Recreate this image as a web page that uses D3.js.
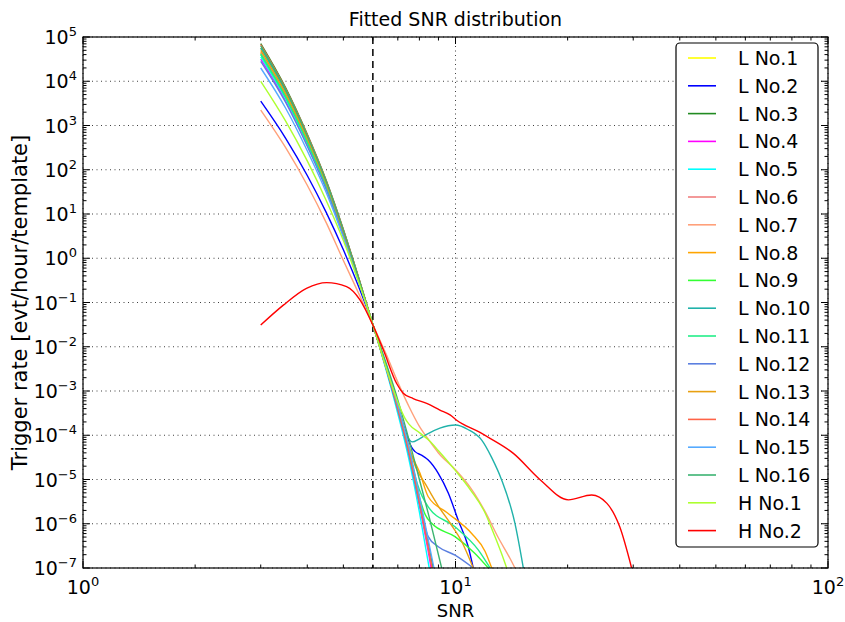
<!DOCTYPE html>
<html>
<head>
<meta charset="utf-8">
<script src="https://cdn.jsdelivr.net/npm/d3@7"></script>
<style>
  body { margin: 0; background: #fff; }
  svg { display: block; }
  text { font-family: "DejaVu Sans", sans-serif; fill: #000; }
</style>
</head>
<body>
<svg id="chart" width="845" height="622"></svg>
<script>
// Fitted trigger-rate curves: each point is [SNR, log10(rate in evt/hour/template)]
const lNo1  = [[3,4.65],[3.5,3.68],[4,2.67],[4.5,1.65],[5,0.58],[5.5,-0.48],[6,-1.5],[6.5,-2.43],[7,-3.36],[7.5,-4.33],[8,-5.44],[8.5,-6.56],[8.7,-7]];
const lNo2  = [[3,3.55],[3.5,2.71],[4,1.87],[4.5,1.03],[5,0.19],[5.5,-0.65],[6,-1.5],[6.5,-2.4],[7,-3.35],[7.4,-4.0],[7.62,-4.27],[7.79,-4.37],[8.1,-4.45],[8.45,-4.56],[8.99,-4.86],[9.57,-5.31],[10.17,-5.92],[10.82,-6.52],[11.16,-7]];
const lNo3  = [[3,4.85],[3.5,3.85],[4,2.8],[4.5,1.75],[5,0.65],[5.5,-0.45],[6,-1.5],[6.5,-2.43],[7,-3.36],[7.5,-4.33],[8,-5.44],[8.5,-6.56],[8.7,-7]];
const lNo4  = [[3,4.5],[3.5,3.56],[4,2.57],[4.5,1.58],[5,0.53],[5.5,-0.51],[6,-1.5],[6.5,-2.47],[7,-3.43],[7.5,-4.44],[8,-5.59],[8.5,-6.75],[8.6,-7]];
const lNo5  = [[3,4.55],[3.5,3.6],[4,2.6],[4.5,1.6],[5,0.55],[5.5,-0.5],[6,-1.5],[6.5,-2.5],[7,-3.51],[7.5,-4.55],[8,-5.74],[8.5,-7]];
const lNo6  = [[3,4.65],[3.5,3.68],[4,2.67],[4.5,1.65],[5,0.58],[5.5,-0.48],[6,-1.5],[6.5,-2.45],[7,-3.4],[7.5,-4.39],[8,-5.51],[8.5,-6.65],[8.65,-7]];
const lNo7  = [[3,3.35],[3.5,2.5],[4,1.65],[4.5,0.8],[5,-0.05],[5.5,-0.8],[6,-1.5],[6.5,-2.15],[7,-2.8],[7.5,-3.35],[8,-3.8],[8.5,-4.12],[9,-4.4],[10,-4.78],[11,-5.2],[12,-5.72],[13,-6.3],[14,-6.78],[14.44,-7]];
const lNo8  = [[3,4.75],[3.5,3.77],[4,2.73],[4.5,1.7],[5,0.62],[5.5,-0.47],[6,-1.5],[6.5,-2.43],[7,-3.36],[7.5,-4.3],[8.03,-4.86],[8.45,-5.39],[9.5,-5.75],[11.05,-6.22],[12.0,-6.62],[12.51,-7]];
const lNo9  = [[3,4.6],[3.5,3.64],[4,2.63],[4.5,1.63],[5,0.57],[5.5,-0.49],[6,-1.5],[6.5,-2.43],[7,-3.36],[7.5,-4.33],[8,-5.4],[8.3,-5.8],[8.63,-5.99],[9.97,-6.29],[11.28,-6.67],[12.25,-7]];
const lNo10 = [[3,4.75],[3.5,3.77],[4,2.73],[4.5,1.7],[5,0.62],[5.5,-0.47],[6,-1.5],[6.5,-2.45],[7,-3.4],[7.35,-3.95],[7.65,-4.15],[8,-4.08],[8.37,-3.98],[9.08,-3.84],[10,-3.77],[10.8,-3.87],[11.76,-4.11],[12.5,-4.5],[13.3,-5.01],[14.44,-5.99],[15.21,-7]];
const lNo11 = [[3,4.62],[3.5,3.65],[4,2.64],[4.5,1.63],[5,0.57],[5.5,-0.49],[6,-1.5],[6.5,-2.44],[7,-3.38],[7.5,-4.35],[7.9,-5.1],[8.45,-5.62],[9.97,-6.07],[11.51,-6.59],[12.38,-7]];
const lNo12 = [[3,4.45],[3.5,3.52],[4,2.53],[4.5,1.55],[5,0.52],[5.5,-0.52],[6,-1.5],[6.5,-2.47],[7,-3.43],[7.5,-4.44],[8,-5.55],[8.45,-6.29],[8.99,-6.52],[9.97,-6.71],[11.16,-7]];
const lNo13 = [[3,4.7],[3.5,3.72],[4,2.7],[4.5,1.68],[5,0.6],[5.5,-0.48],[6,-1.5],[6.5,-2.42],[7,-3.33],[7.5,-4.25],[7.8,-4.7],[8.3,-5.1],[8.99,-5.6],[9.7,-6.0],[10.39,-6.4],[11.16,-7]];
const lNo14 = [[3,4.83],[3.5,3.83],[4,2.79],[4.5,1.74],[5,0.64],[5.5,-0.45],[6,-1.5],[6.5,-2.45],[7,-3.4],[7.5,-4.39],[8,-5.51],[8.5,-6.65],[8.65,-7]];
const lNo15 = [[3,4.3],[3.5,3.39],[4,2.43],[4.5,1.48],[5,0.47],[5.5,-0.54],[6,-1.5],[6.5,-2.41],[7,-3.32],[7.5,-4.27],[8,-5.37],[8.5,-6.47],[8.75,-7]];
const lNo16 = [[3,4.8],[3.5,3.81],[4,2.77],[4.5,1.73],[5,0.63],[5.5,-0.46],[6,-1.5],[6.5,-2.35],[7,-3.2],[7.5,-4.1],[8,-5.0],[8.5,-5.85],[9.18,-7]];
const hNo1  = [[3,4.0],[3.5,3.1],[4,2.2],[4.5,1.3],[5,0.4],[5.5,-0.55],[6,-1.5],[6.5,-2.45],[7,-3.25],[7.3,-3.6],[7.5,-3.75],[8,-3.94],[8.5,-4.12],[9,-4.35],[10,-4.8],[11,-5.25],[12,-5.75],[12.76,-6.29],[13.3,-6.68],[13.72,-7]];
const hNo2  = [[3,-1.51],[3.45,-1.06],[3.98,-0.68],[4.51,-0.55],[5.1,-0.64],[5.54,-0.94],[6,-1.51],[6.4,-2.07],[6.95,-2.83],[7.24,-3.05],[7.7,-3.17],[8.37,-3.28],[9.08,-3.43],[9.67,-3.54],[10.07,-3.66],[11.6,-3.93],[12.38,-4.07],[14.3,-4.41],[16.9,-5.01],[20.1,-5.46],[23.2,-5.35],[25.5,-5.54],[27.6,-6.07],[29.7,-7]];

const seriesNames = ["L No.1","L No.2","L No.3","L No.4","L No.5","L No.6","L No.7","L No.8",
  "L No.9","L No.10","L No.11","L No.12","L No.13","L No.14","L No.15","L No.16","H No.1","H No.2"];
const seriesData = [lNo1,lNo2,lNo3,lNo4,lNo5,lNo6,lNo7,lNo8,lNo9,lNo10,lNo11,lNo12,lNo13,lNo14,lNo15,lNo16,hNo1,hNo2];
const seriesColors = ["#ffff00","#0000ff","#228b22","#ff00ff","#00ffff","#f08080","#ffa07a","#ffa500",
  "#33ff33","#20b2aa","#22ee88","#5b7fe0","#e8a010","#ff6347","#55aaff","#3cb371","#adff2f","#ff0000"];

// Axis ranges and tick exponents
const xExponents = [0, 1, 2];
const yExponents = [-7,-6,-5,-4,-3,-2,-1,0,1,2,3,4,5];
const thresholdSNR = 6;

const svg = d3.select("#chart");
const plot = { left: 83, right: 828, top: 37, bottom: 568 };
const x = d3.scaleLog().domain([1, 100]).range([plot.left, plot.right]);
const y = d3.scaleLog().domain([1e-7, 1e5]).range([plot.bottom, plot.top]);

svg.append("defs").append("clipPath").attr("id", "clip")
  .append("rect").attr("x", plot.left).attr("y", plot.top)
  .attr("width", plot.right - plot.left).attr("height", plot.bottom - plot.top);

// Dotted grid at major decades
const grid = svg.append("g");
yExponents.forEach(e => {
  const yy = y(Math.pow(10, e));
  grid.append("line").attr("x1", plot.left).attr("x2", plot.right).attr("y1", yy).attr("y2", yy)
    .attr("stroke", "#000").attr("stroke-width", 1).attr("stroke-dasharray", "1,3.5").attr("opacity", 0.75);
});
xExponents.forEach(e => {
  const xx = x(Math.pow(10, e));
  grid.append("line").attr("x1", xx).attr("x2", xx).attr("y1", plot.top).attr("y2", plot.bottom)
    .attr("stroke", "#000").attr("stroke-width", 1).attr("stroke-dasharray", "1,3.5").attr("opacity", 0.75);
});

// Threshold marker
svg.append("line")
  .attr("x1", x(thresholdSNR)).attr("x2", x(thresholdSNR))
  .attr("y1", plot.top).attr("y2", plot.bottom)
  .attr("stroke", "#000").attr("stroke-width", 1.5).attr("stroke-dasharray", "7,5");

// Curves
const line = d3.line()
  .x(d => x(d[0]))
  .y(d => y(Math.pow(10, d[1])))
  .curve(d3.curveMonotoneX);

const curves = svg.append("g").attr("clip-path", "url(#clip)");
seriesData.forEach((pts, i) => {
  curves.append("path").datum(pts)
    .attr("d", line)
    .attr("fill", "none")
    .attr("stroke", seriesColors[i])
    .attr("stroke-width", 1.4);
});

// Frame with inward ticks on all four sides
const frame = svg.append("g");
frame.append("rect").attr("x", plot.left).attr("y", plot.top)
  .attr("width", plot.right - plot.left).attr("height", plot.bottom - plot.top)
  .attr("fill", "none").attr("stroke", "#000").attr("stroke-width", 1.2);

const majorLen = 7, minorLen = 3.5;
function xTick(v, len) {
  const xx = x(v);
  frame.append("line").attr("x1", xx).attr("x2", xx).attr("y1", plot.bottom).attr("y2", plot.bottom - len).attr("stroke", "#000");
  frame.append("line").attr("x1", xx).attr("x2", xx).attr("y1", plot.top).attr("y2", plot.top + len).attr("stroke", "#000");
}
function yTick(v, len) {
  const yy = y(v);
  frame.append("line").attr("x1", plot.left).attr("x2", plot.left + len).attr("y1", yy).attr("y2", yy).attr("stroke", "#000");
  frame.append("line").attr("x1", plot.right).attr("x2", plot.right - len).attr("y1", yy).attr("y2", yy).attr("stroke", "#000");
}
xExponents.forEach(e => xTick(Math.pow(10, e), majorLen));
xExponents.slice(0, -1).forEach(e => d3.range(2, 10).forEach(k => xTick(k * Math.pow(10, e), minorLen)));
yExponents.forEach(e => yTick(Math.pow(10, e), majorLen));
yExponents.slice(0, -1).forEach(e => d3.range(2, 10).forEach(k => yTick(k * Math.pow(10, e), minorLen)));

function powLabel(sel, e) {
  sel.append("tspan").text("10");
  sel.append("tspan").attr("dy", -8).attr("font-size", 13).text(String(e).replace("-", "\u2212"));
}
xExponents.forEach(e => {
  const t = svg.append("text").attr("x", x(Math.pow(10, e))).attr("y", 594)
    .attr("text-anchor", "middle").attr("font-size", 19);
  powLabel(t, e);
});
yExponents.forEach(e => {
  const t = svg.append("text").attr("x", 77).attr("y", y(Math.pow(10, e)) + 7)
    .attr("text-anchor", "end").attr("font-size", 19);
  powLabel(t, e);
});

// Titles
svg.append("text").attr("x", (plot.left + plot.right) / 2).attr("y", 26)
  .attr("text-anchor", "middle").attr("font-size", 19).text("Fitted SNR distribution");
svg.append("text").attr("x", (plot.left + plot.right) / 2).attr("y", 617)
  .attr("text-anchor", "middle").attr("font-size", 18).text("SNR");
svg.append("text")
  .attr("transform", `translate(27,${(plot.top + plot.bottom) / 2}) rotate(-90)`)
  .attr("text-anchor", "middle").attr("font-size", 21).text("Trigger rate [evt/hour/template]");

// Legend
const legend = svg.append("g");
legend.append("rect").attr("x", 676).attr("y", 43).attr("width", 142).attr("height", 504)
  .attr("rx", 4).attr("fill", "#fff").attr("stroke", "#000").attr("stroke-width", 1.2);
seriesNames.forEach((name, i) => {
  const cy = 58 + i * 27.8;
  legend.append("line").attr("x1", 688).attr("x2", 716).attr("y1", cy).attr("y2", cy)
    .attr("stroke", seriesColors[i]).attr("stroke-width", 1.6);
  legend.append("text").attr("x", 738).attr("y", cy + 7).attr("font-size", 19).text(name);
});
</script>
</body>
</html>
